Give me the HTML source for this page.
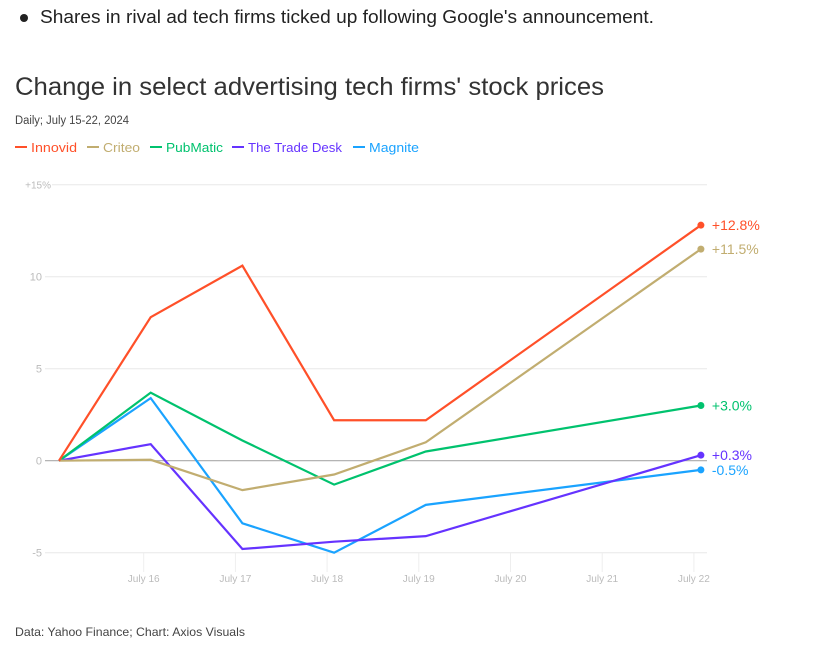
<!DOCTYPE html>
<html><head><meta charset="utf-8"><style>
body{margin:0;width:813px;height:655px;background:#fff;font-family:"Liberation Sans",sans-serif;overflow:hidden}
</style></head><body>
<svg width="813" height="655" style="position:absolute;left:0;top:0">
<circle cx="24" cy="18" r="4" fill="#222"/>
<text x="40" y="23" font-size="18" fill="#222" textLength="614" lengthAdjust="spacingAndGlyphs">Shares in rival ad tech firms ticked up following Google's announcement.</text>
<text x="15" y="95" font-size="25" fill="#333" textLength="589" lengthAdjust="spacingAndGlyphs">Change in select advertising tech firms' stock prices</text>
<text x="15" y="124" font-size="11.5" fill="#444" textLength="114" lengthAdjust="spacingAndGlyphs">Daily; July 15-22, 2024</text>
<g id="legend"></g>
<g id="grid"></g>
<g id="lines"></g>
<text x="15" y="636" font-size="12" fill="#444" textLength="230" lengthAdjust="spacingAndGlyphs">Data: Yahoo Finance; Chart: Axios Visuals</text>
</svg>
<script>
const days=[15,16,17,18,19,22];
const tickDays=[16,17,18,19,20,21,22];
const tickLabels=["July 16","July 17","July 18","July 19","July 20","July 21","July 22"];
const yTicks=[-5,0,5,10,15];
const yTickLabels=["-5","0","5","10","+15%"];
const names=["Innovid","Criteo","PubMatic","The Trade Desk","Magnite"];
const colors=["#ff5029","#c1ad70","#00c26e","#6533ff","#1aa3ff"];
const innovid=[0,7.8,10.6,2.2,2.2,12.8];
const criteo=[0,0.05,-1.6,-0.75,1.0,11.5];
const pubmatic=[0,3.7,1.1,-1.3,0.5,3.0];
const tradeDesk=[0,0.9,-4.8,-4.4,-4.1,0.3];
const magnite=[0,3.4,-3.4,-5.0,-2.4,-0.5];
const endLabels=["+12.8%","+11.5%","+3.0%","+0.3%","-0.5%"];
const series=[innovid,criteo,pubmatic,tradeDesk,magnite];
const NS="http://www.w3.org/2000/svg";
const x=d=>59+(d-15)*91.7;
const y=v=>460.7-v*18.4;
function mk(t,a,p){const e=document.createElementNS(NS,t);for(const k in a)e.setAttribute(k,a[k]);p.appendChild(e);return e;}
const grid=document.getElementById('grid'),lines=document.getElementById('lines'),leg=document.getElementById('legend');
yTicks.forEach((v,i)=>{
 const l=mk('line',{x1:i===4?52:45,x2:707,y1:y(v),y2:y(v),stroke:v===0?'#aaa':'#e8e8e8','stroke-width':v===0?1.2:1},grid);
 
 
 const t=mk('text',{x:i===4?51:42,y:y(v)+4,'font-size':i===4?10:11,fill:'#bbb','text-anchor':'end'},grid);
 t.textContent=yTickLabels[i];
 
 
});
tickDays.forEach((d,i)=>{
 const tx=x(d)-7;
 const l=mk('line',{x1:tx,x2:tx,y1:553,y2:572,stroke:'#eee','stroke-width':1},grid);
 
 
 const t=mk('text',{x:tx,y:582,'font-size':10.5,fill:'#bbb','text-anchor':'middle',textLength:32,lengthAdjust:'spacingAndGlyphs'},grid);
 t.textContent=tickLabels[i];
 
 
});
const lxs=[15,87,150,232,353];
const tws=[46,37,57,94,50];
names.forEach((n,i)=>{
 const lx=lxs[i];
 const l=mk('line',{x1:lx,x2:lx+12,y1:147,y2:147,stroke:colors[i],'stroke-width':2},leg);
 
 
 const t=mk('text',{x:lx+16,y:152,'font-size':13,fill:colors[i],textLength:tws[i],lengthAdjust:'spacingAndGlyphs'},leg);
 t.textContent=n;
 
 
});
[4,3,2,1,0].forEach(i=>{
 const s=series[i];
 const p=mk('polyline',{points:s.map((v,j)=>x(days[j])+','+y(v)).join(' '),fill:'none',stroke:colors[i],'stroke-width':2.2,'stroke-linejoin':'miter'},lines);
 
 
 const last=s[s.length-1];
 const c=mk('circle',{cx:x(22),cy:y(last),r:3.5,fill:colors[i]},lines);
 
 
 const t=mk('text',{x:x(22)+11,y:y(last)+5,'font-size':14,fill:colors[i]},lines);
 t.textContent=endLabels[i];
 
 
});
</script>
</body></html>
